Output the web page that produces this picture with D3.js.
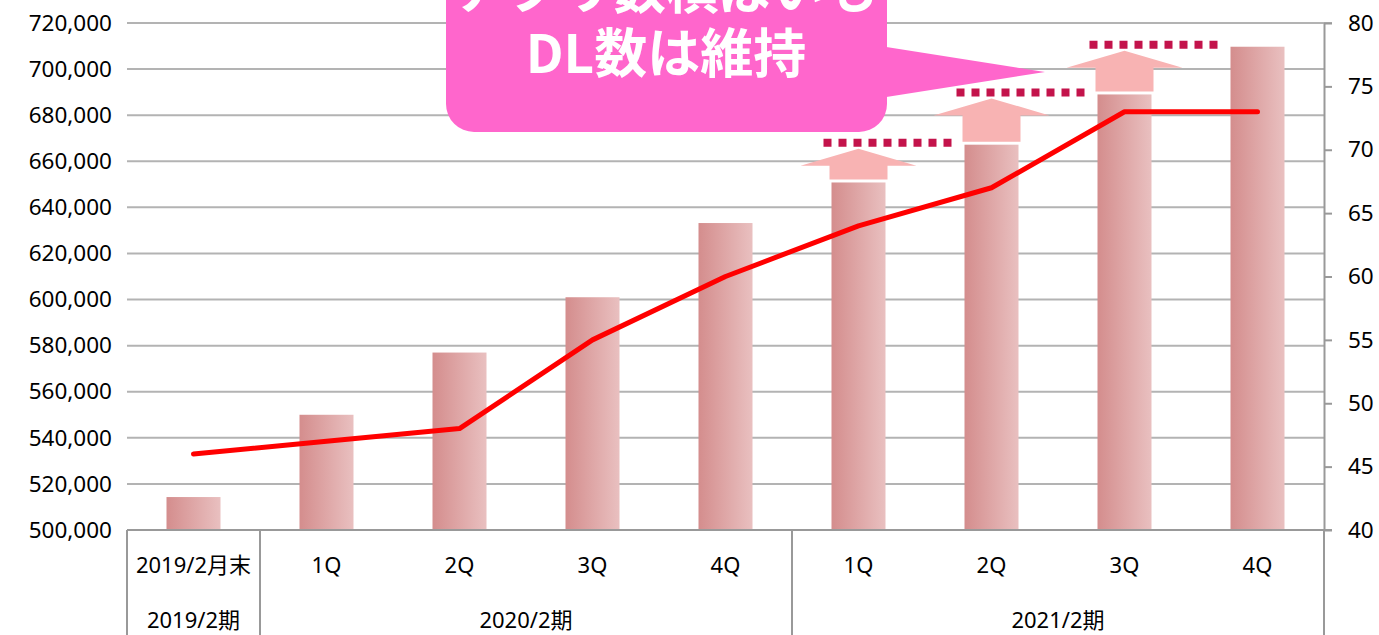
<!DOCTYPE html>
<html>
<head>
<meta charset="utf-8">
<script src="https://cdn.jsdelivr.net/npm/d3@7"></script>
<style>
  html, body { margin: 0; padding: 0; background: #fff; }
  svg { display: block; }
  text { font-family: "Noto Sans", "Noto Sans CJK JP", sans-serif; }
</style>
</head>
<body>
<div id="chart"></div>
<script>
// data
const categories = ["2019/2月末", "1Q", "2Q", "3Q", "4Q", "1Q", "2Q", "3Q", "4Q"];
const groupLabels = ["2019/2期", "2020/2期", "2021/2期"];
const groupSizes = [1, 4, 4];
const barValues = [514300, 550000, 577000, 601000, 633200, 650800, 667200, 689000, 709700];
const lineValues = [46, 47, 48, 55, 60, 64, 67, 73, 73];
const leftTicks = d3.range(500000, 720001, 20000);
const rightTicks = d3.range(40, 81, 5);
const arrowAt = [5, 6, 7];
const calloutLines = ["アプリ数横ばいも", "DL数は維持"];

const W = 1379, H = 635;
const m = {left: 127, right: 1324, top: 23, bottom: 530};

const svg = d3.select('#chart').append('svg')
    .attr('width', W)
    .attr('height', H);

const x = d3.scaleBand()
    .domain(d3.range(categories.length))
    .range([m.left, m.right])
    .padding(0);

const yL = d3.scaleLinear().domain([500000, 720000]).range([m.bottom, m.top]);
const yR = d3.scaleLinear().domain([40, 80]).range([m.bottom, m.top]);

const cx = i => x(i) + x.bandwidth() / 2;
const barW = 54;

// gradient for bars
const grad = svg.append('defs').append('linearGradient')
    .attr('id', 'barGrad')
    .attr('x1', '0%').attr('x2', '100%').attr('y1', '0%').attr('y2', '0%');
grad.append('stop').attr('offset', '0%').attr('stop-color', '#d48d8d');
grad.append('stop').attr('offset', '100%').attr('stop-color', '#e9c0c0');

// gridlines
svg.append('g')
    .selectAll('line')
    .data(leftTicks)
    .enter()
    .append('line')
    .attr('x1', m.left)
    .attr('x2', d => d === 720000 ? m.right + 8 : m.right)
    .attr('y1', d => yL(d))
    .attr('y2', d => yL(d))
    .attr('stroke', '#b3b3b3')
    .attr('stroke-width', 2);

// left axis
const leftAxis = svg.append('g')
    .attr('transform', `translate(${m.left},0)`)
    .call(d3.axisLeft(yL).tickValues(leftTicks).tickFormat(d3.format(',')).tickSize(0).tickPadding(15));
leftAxis.select('.domain').remove();
leftAxis.selectAll('text').attr('font-size', 22.5).attr('fill', '#000');

// right axis
const rightAxis = svg.append('g')
    .attr('transform', `translate(${m.right},0)`)
    .call(d3.axisRight(yR).tickValues(rightTicks).tickSize(8).tickPadding(16).tickSizeOuter(0));
rightAxis.select('.domain').attr('stroke', '#999').attr('stroke-width', 2);
rightAxis.selectAll('.tick line').attr('stroke', '#999').attr('stroke-width', 2);
rightAxis.selectAll('text').attr('font-size', 22.5).attr('fill', '#000');

// bars
svg.append('g')
    .selectAll('rect')
    .data(barValues)
    .enter()
    .append('rect')
    .attr('x', (d, i) => cx(i) - barW / 2)
    .attr('width', barW)
    .attr('y', d => yL(d))
    .attr('height', d => m.bottom - yL(d))
    .attr('fill', 'url(#barGrad)');

// category box
const axisG = svg.append('g');
axisG.append('line')
    .attr('x1', m.left).attr('x2', m.right + 8)
    .attr('y1', m.bottom).attr('y2', m.bottom)
    .attr('stroke', '#999').attr('stroke-width', 2);

let start = 0;
const seps = [0];
groupSizes.forEach(n => { start += n; seps.push(start); });
axisG.selectAll('line.sep')
    .data(seps)
    .enter()
    .append('line')
    .attr('class', 'sep')
    .attr('x1', d => d < categories.length ? x(d) : m.right)
    .attr('x2', d => d < categories.length ? x(d) : m.right)
    .attr('y1', m.bottom).attr('y2', H)
    .attr('stroke', '#999').attr('stroke-width', 2);

axisG.selectAll('text.cat')
    .data(categories)
    .enter()
    .append('text')
    .attr('class', 'cat')
    .attr('x', (d, i) => cx(i))
    .attr('y', 573)
    .attr('text-anchor', 'middle')
    .attr('font-size', 22)
    .text(d => d);

axisG.selectAll('text.grp')
    .data(groupLabels)
    .enter()
    .append('text')
    .attr('class', 'grp')
    .attr('x', (d, i) => (x(seps[i]) + (seps[i + 1] < categories.length ? x(seps[i + 1]) : m.right)) / 2)
    .attr('y', 628)
    .attr('text-anchor', 'middle')
    .attr('font-size', 22)
    .text(d => d);

// line
const line = d3.line()
    .x((d, i) => cx(i))
    .y(d => yR(d));

svg.append('path')
    .datum(lineValues)
    .attr('d', line)
    .attr('fill', 'none')
    .attr('stroke', '#ff0000')
    .attr('stroke-width', 5)
    .attr('stroke-linejoin', 'round')
    .attr('stroke-linecap', 'round');

// arrows up to next quarter's level
const arrowG = svg.append('g');
arrowAt.forEach(i => {
    const c = cx(i);
    const bottom = yL(barValues[i]) - 3;
    const apex = yL(barValues[i + 1]) + 4;
    const base = apex + 17;
    const pts = [
        [c - 29, bottom], [c - 29, base], [c - 58, base], [c, apex],
        [c + 58, base], [c + 29, base], [c + 29, bottom]
    ];
    arrowG.append('path')
        .attr('d', d3.line()(pts) + 'Z')
        .attr('fill', '#f8b3b3');
    arrowG.append('line')
        .attr('x1', c - 35)
        .attr('x2', cx(i + 1) - 33)
        .attr('y1', yL(barValues[i + 1]) - 2)
        .attr('y2', yL(barValues[i + 1]) - 2)
        .attr('stroke', '#c3134b')
        .attr('stroke-width', 8)
        .attr('stroke-dasharray', '8,7');
});

// callout
const callout = svg.append('g');
callout.append('path')
    .attr('d', 'M880,46 L1045,72 L880,98 Z')
    .attr('fill', '#ff66cc');
callout.append('rect')
    .attr('x', 446).attr('y', -60)
    .attr('width', 441).attr('height', 192)
    .attr('rx', 28)
    .attr('fill', '#ff66cc');
callout.selectAll('text')
    .data(calloutLines)
    .enter()
    .append('text')
    .attr('x', 666)
    .attr('y', (d, i) => 9 + i * 64)
    .attr('text-anchor', 'middle')
    .attr('font-size', 53)
    .attr('font-weight', 'bold')
    .attr('fill', '#fff')
    .style('font-family', '"Noto Sans CJK JP", sans-serif')
    .text(d => d);
</script>
</body>
</html>
